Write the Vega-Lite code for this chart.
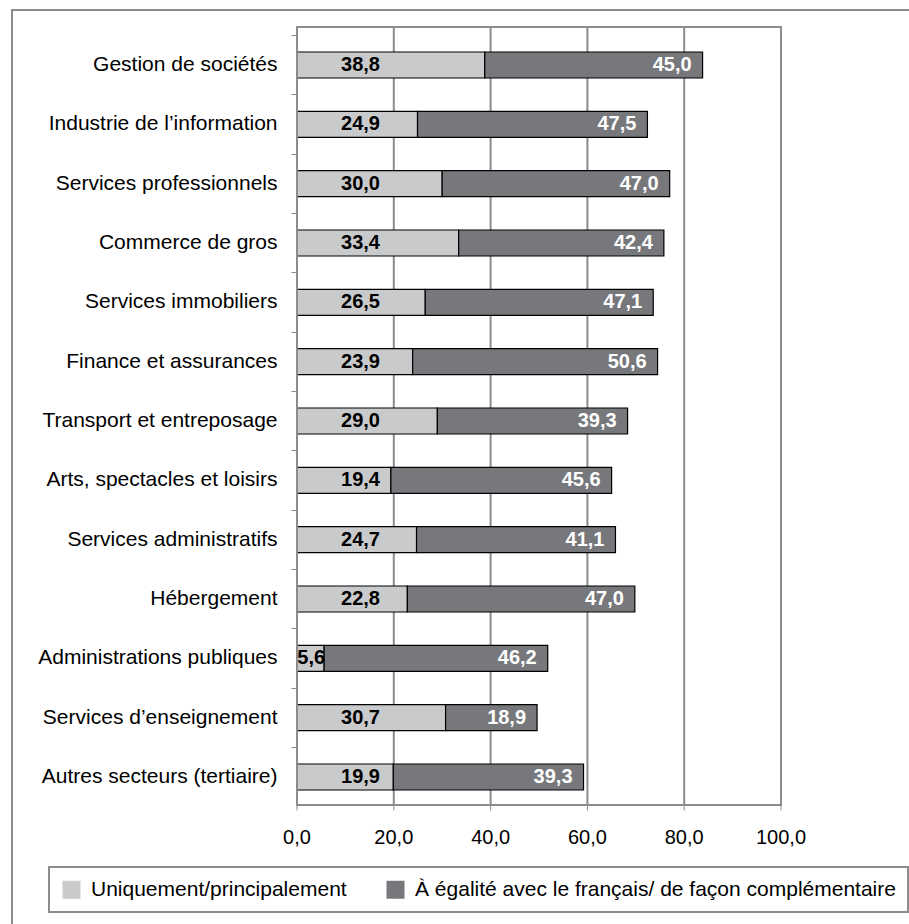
{
  "$schema": "https://vega.github.io/schema/vega-lite/v6.json",
  "width": 900,
  "height": 920,
  "autosize": {"type": "none"},
  "padding": {"left": 12, "top": 10, "right": -3, "bottom": -6},
  "background": "white",
  "config": {
    "font": "Liberation Sans",
    "view": {"stroke": "#8c8c8e", "strokeWidth": 2},
    "locale": {"number": {"decimal": ",", "thousands": " ", "grouping": [3], "currency": ["", " €"]}},
    "axis": {"labelFont": "Liberation Sans", "labelColor": "#000", "domain": false, "grid": false},
    "legend": {"strokeWidth": 2}
  },
  "resolve": {"scale": {"y": "independent"}, "axis": {"y": "independent"}},
  "layer": [
    {
      "data": {"values": [{"v": 20}, {"v": 40}, {"v": 60}, {"v": 80}]},
      "mark": {"type": "rule", "color": "#8c8c8e", "strokeWidth": 2},
      "encoding": {
        "x": {"field": "v", "type": "quantitative", "title": null, "axis": null,
              "scale": {"domain": [-58.884, 127.066], "nice": false, "zero": false}},
        "y": {"datum": 0, "type": "quantitative", "title": null, "axis": null,
              "scale": {"domain": [-16.067, 102.185], "nice": false, "zero": false}},
        "y2": {"datum": 100}
      }
    },
    {
      "data": {"values": [
        {"secteur": "Gestion de sociétés", "serie": "Uniquement/principalement", "rang": 1, "valeur": 38.8},
        {"secteur": "Gestion de sociétés", "serie": "À égalité avec le français/ de façon complémentaire", "rang": 2, "valeur": 45.0},
        {"secteur": "Industrie de l’information", "serie": "Uniquement/principalement", "rang": 1, "valeur": 24.9},
        {"secteur": "Industrie de l’information", "serie": "À égalité avec le français/ de façon complémentaire", "rang": 2, "valeur": 47.5},
        {"secteur": "Services professionnels", "serie": "Uniquement/principalement", "rang": 1, "valeur": 30.0},
        {"secteur": "Services professionnels", "serie": "À égalité avec le français/ de façon complémentaire", "rang": 2, "valeur": 47.0},
        {"secteur": "Commerce de gros", "serie": "Uniquement/principalement", "rang": 1, "valeur": 33.4},
        {"secteur": "Commerce de gros", "serie": "À égalité avec le français/ de façon complémentaire", "rang": 2, "valeur": 42.4},
        {"secteur": "Services immobiliers", "serie": "Uniquement/principalement", "rang": 1, "valeur": 26.5},
        {"secteur": "Services immobiliers", "serie": "À égalité avec le français/ de façon complémentaire", "rang": 2, "valeur": 47.1},
        {"secteur": "Finance et assurances", "serie": "Uniquement/principalement", "rang": 1, "valeur": 23.9},
        {"secteur": "Finance et assurances", "serie": "À égalité avec le français/ de façon complémentaire", "rang": 2, "valeur": 50.6},
        {"secteur": "Transport et entreposage", "serie": "Uniquement/principalement", "rang": 1, "valeur": 29.0},
        {"secteur": "Transport et entreposage", "serie": "À égalité avec le français/ de façon complémentaire", "rang": 2, "valeur": 39.3},
        {"secteur": "Arts, spectacles et loisirs", "serie": "Uniquement/principalement", "rang": 1, "valeur": 19.4},
        {"secteur": "Arts, spectacles et loisirs", "serie": "À égalité avec le français/ de façon complémentaire", "rang": 2, "valeur": 45.6},
        {"secteur": "Services administratifs", "serie": "Uniquement/principalement", "rang": 1, "valeur": 24.7},
        {"secteur": "Services administratifs", "serie": "À égalité avec le français/ de façon complémentaire", "rang": 2, "valeur": 41.1},
        {"secteur": "Hébergement", "serie": "Uniquement/principalement", "rang": 1, "valeur": 22.8},
        {"secteur": "Hébergement", "serie": "À égalité avec le français/ de façon complémentaire", "rang": 2, "valeur": 47.0},
        {"secteur": "Administrations publiques", "serie": "Uniquement/principalement", "rang": 1, "valeur": 5.6},
        {"secteur": "Administrations publiques", "serie": "À égalité avec le français/ de façon complémentaire", "rang": 2, "valeur": 46.2},
        {"secteur": "Services d’enseignement", "serie": "Uniquement/principalement", "rang": 1, "valeur": 30.7},
        {"secteur": "Services d’enseignement", "serie": "À égalité avec le français/ de façon complémentaire", "rang": 2, "valeur": 18.9},
        {"secteur": "Autres secteurs (tertiaire)", "serie": "Uniquement/principalement", "rang": 1, "valeur": 19.9},
        {"secteur": "Autres secteurs (tertiaire)", "serie": "À égalité avec le français/ de façon complémentaire", "rang": 2, "valeur": 39.3}
      ]},
      "transform": [
        {"stack": "valeur", "groupby": ["secteur"], "sort": [{"field": "rang", "order": "ascending"}], "as": ["x0", "x1"]}
      ],
      "encoding": {
        "y": {
          "field": "secteur", "type": "nominal", "sort": null, "title": null,
          "scale": {
            "domain": ["Gestion de sociétés", "Industrie de l’information", "Services professionnels", "Commerce de gros", "Services immobiliers", "Finance et assurances", "Transport et entreposage", "Arts, spectacles et loisirs", "Services administratifs", "Hébergement", "Administrations publiques", "Services d’enseignement", "Autres secteurs (tertiaire)"],
            "range": [42, 780], "paddingInner": 0.5618, "paddingOuter": 0
          },
          "axis": {"orient": "left", "offset": -285, "bandPosition": -0.641, "tickSize": 6, "tickColor": "#8c8c8e", "tickWidth": 1,
                   "labelFontSize": 21, "labelPadding": 14, "labelLimit": 500, "domain": false, "grid": false}
        }
      },
      "layer": [
        {
          "mark": {"type": "bar", "stroke": "#000", "strokeWidth": 1.2},
          "encoding": {
            "x": {"field": "x0", "type": "quantitative", "title": null, "axis": null,
                  "scale": {"domain": [-58.884, 127.066], "nice": false, "zero": false}},
            "x2": {"field": "x1"},
            "color": {
              "field": "serie", "type": "nominal",
              "scale": {"domain": ["Uniquement/principalement", "À égalité avec le français/ de façon complémentaire"], "range": ["#c9cacc", "#77787b"]},
              "legend": {"orient": "none", "legendX": 37, "legendY": 857, "direction": "horizontal", "title": null,
                         "symbolType": "square", "symbolSize": 324, "symbolStrokeWidth": 0, "labelFontSize": 21,
                         "labelColor": "#000", "labelOffset": 9, "columnPadding": 38, "padding": 12,
                         "strokeColor": "#8c8c8e", "fillColor": "white", "labelLimit": 700}
            }
          }
        },
        {
          "transform": [{"filter": "datum.rang == 1 && datum.valeur >= 10"}],
          "mark": {"type": "text", "align": "right", "baseline": "middle", "fontSize": 20, "fontWeight": "bold", "color": "#000"},
          "encoding": {
            "x": {"datum": 17.15, "type": "quantitative", "axis": null, "scale": {"domain": [-58.884, 127.066], "nice": false, "zero": false}},
            "text": {"field": "valeur", "type": "quantitative", "format": ".1f"}
          }
        },
        {
          "transform": [{"filter": "datum.rang == 1 && datum.valeur < 10"}],
          "mark": {"type": "text", "align": "right", "baseline": "middle", "fontSize": 20, "fontWeight": "bold", "color": "#000", "dx": 1},
          "encoding": {
            "x": {"field": "x1", "type": "quantitative", "axis": null, "scale": {"domain": [-58.884, 127.066], "nice": false, "zero": false}},
            "text": {"field": "valeur", "type": "quantitative", "format": ".1f"}
          }
        },
        {
          "transform": [{"filter": "datum.rang == 2"}],
          "mark": {"type": "text", "align": "right", "baseline": "middle", "fontSize": 20, "fontWeight": "bold", "color": "#fff", "dx": -11},
          "encoding": {
            "x": {"field": "x1", "type": "quantitative", "axis": null, "scale": {"domain": [-58.884, 127.066], "nice": false, "zero": false}},
            "text": {"field": "valeur", "type": "quantitative", "format": ".1f"}
          }
        }
      ]
    },
    {
      "data": {"values": [{"graduation": 0}, {"graduation": 20}, {"graduation": 40}, {"graduation": 60}, {"graduation": 80}, {"graduation": 100}]},
      "encoding": {
        "y": {"datum": 0, "type": "quantitative", "title": null, "axis": null,
              "scale": {"domain": [-16.067, 102.185], "nice": false, "zero": false}}
      },
      "layer": [
        {
          "data": {"values": [{"cadre": "zone de tracé"}]},
          "mark": {"type": "rect", "fillOpacity": 0, "stroke": "#8c8c8e", "strokeWidth": 2},
          "encoding": {
            "x": {"datum": 0, "type": "quantitative", "title": null, "axis": null,
                  "scale": {"domain": [-58.884, 127.066], "nice": false, "zero": false}},
            "x2": {"datum": 100},
            "y2": {"datum": 100}
          }
        },
        {
          "mark": {"type": "rule", "color": "#8c8c8e", "strokeWidth": 1},
          "encoding": {
            "x": {"field": "graduation", "type": "quantitative", "title": null, "axis": null,
                  "scale": {"domain": [-58.884, 127.066], "nice": false, "zero": false}},
            "y2": {"datum": -0.7}
          }
        },
        {
          "mark": {"type": "text", "align": "center", "baseline": "middle", "fontSize": 20, "color": "#000"},
          "encoding": {
            "x": {"field": "graduation", "type": "quantitative", "title": null, "axis": null,
                  "scale": {"domain": [-58.884, 127.066], "nice": false, "zero": false}},
            "y": {"datum": -4.25, "type": "quantitative", "title": null, "axis": null},
            "text": {"field": "graduation", "type": "quantitative", "format": ".1f"}
          }
        }
      ]
    }
  ]
}
